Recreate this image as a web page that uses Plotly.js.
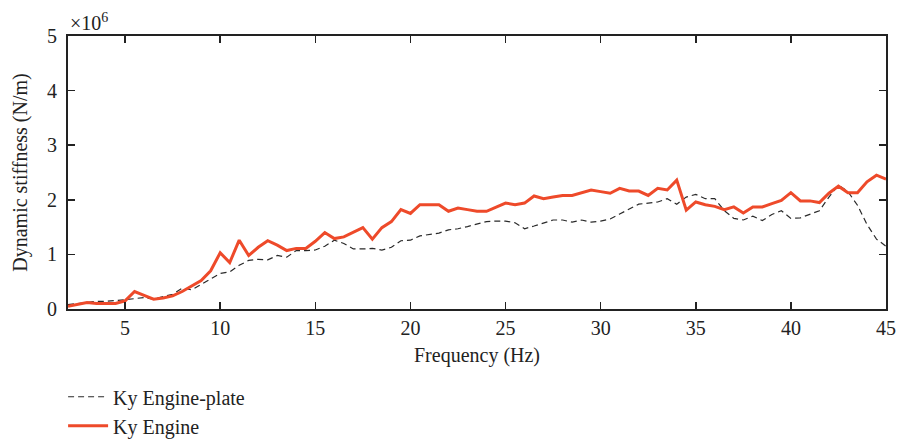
<!DOCTYPE html>
<html>
<head>
<meta charset="utf-8">
<script src="https://cdn.plot.ly/plotly-3.0.1.min.js"></script>
<style>html,body{margin:0;padding:0;background:#fff;}#chart{width:899px;height:441px;}</style>
</head>
<body>
<div id="chart"></div>
<script>
// Frequency (Hz)
const frequency = [2,2.5,3,3.5,4,4.5,5,5.5,6,6.5,7,7.5,8,8.5,9,9.5,10,10.5,11,11.5,12,12.5,13,13.5,14,14.5,15,15.5,16,16.5,17,17.5,18,18.5,19,19.5,20,20.5,21,21.5,22,22.5,23,23.5,24,24.5,25,25.5,26,26.5,27,27.5,28,28.5,29,29.5,30,30.5,31,31.5,32,32.5,33,33.5,34,34.5,35,35.5,36,36.5,37,37.5,38,38.5,39,39.5,40,40.5,41,41.5,42,42.5,43,43.5,44,44.5,45];
// Dynamic stiffness, units of 1e6 N/m
const kyEnginePlate = [0.08,0.10,0.12,0.14,0.14,0.15,0.17,0.19,0.21,0.18,0.23,0.27,0.38,0.35,0.45,0.55,0.65,0.68,0.80,0.89,0.91,0.90,0.98,0.95,1.07,1.07,1.08,1.15,1.26,1.20,1.10,1.10,1.11,1.08,1.13,1.25,1.26,1.34,1.36,1.39,1.45,1.47,1.51,1.55,1.60,1.61,1.61,1.58,1.47,1.52,1.58,1.63,1.63,1.59,1.63,1.59,1.61,1.65,1.74,1.83,1.92,1.94,1.96,2.02,1.92,2.05,2.10,2.02,2.02,1.80,1.66,1.63,1.70,1.62,1.73,1.80,1.66,1.67,1.73,1.80,2.05,2.27,2.15,1.90,1.55,1.28,1.15];
const kyEngine = [0.05,0.08,0.12,0.10,0.10,0.10,0.15,0.32,0.25,0.18,0.20,0.24,0.32,0.42,0.52,0.70,1.03,0.85,1.26,0.98,1.13,1.25,1.17,1.07,1.11,1.11,1.24,1.40,1.29,1.32,1.41,1.49,1.28,1.49,1.60,1.82,1.75,1.91,1.91,1.91,1.79,1.85,1.82,1.79,1.79,1.86,1.94,1.91,1.94,2.07,2.02,2.05,2.08,2.08,2.13,2.18,2.15,2.12,2.21,2.16,2.16,2.08,2.21,2.18,2.36,1.81,1.96,1.91,1.88,1.82,1.87,1.76,1.87,1.87,1.93,1.99,2.13,1.98,1.98,1.95,2.12,2.25,2.13,2.13,2.33,2.45,2.38];
const seriesNames = ['Ky Engine-plate', 'Ky Engine'];
const xTicks = [5,10,15,20,25,30,35,40,45];
const yTicks = [0,1,2,3,4,5];

const font = 'Liberation Serif, DejaVu Serif, serif';
const fs = 20;
const traces = [
  {x: frequency, y: kyEnginePlate, name: seriesNames[0], mode: 'lines', type: 'scatter',
   line: {color: '#2a2a2a', width: 1.2, dash: '6px,4px'}},
  {x: frequency, y: kyEngine, name: seriesNames[1], mode: 'lines', type: 'scatter',
   line: {color: '#EE4A2A', width: 3}}
];
const axisCommon = {
  showgrid: false, zeroline: false, showline: true, linecolor: '#222', linewidth: 2,
  mirror: 'ticks', ticks: 'inside', ticklen: 7, tickwidth: 1.5, tickcolor: '#222',
  tickfont: {family: font, size: fs, color: '#222'}
};
const layout = {
  width: 899, height: 441,
  margin: {l: 68, r: 13, t: 36, b: 132, autoexpand: false},
  paper_bgcolor: '#fff', plot_bgcolor: '#fff',
  font: {family: font, color: '#222'},
  showlegend: true,
  legend: {x: -0.006, y: -0.25, xanchor: 'left', yanchor: 'top', orientation: 'v',
           font: {family: font, size: fs, color: '#222'}, tracegroupgap: 0, itemwidth: 40,
           bgcolor: 'rgba(0,0,0,0)'},
  xaxis: Object.assign({}, axisCommon, {range: [2, 45], tickvals: xTicks, ticktext: xTicks.map(String),
    title: {text: 'Frequency (Hz)', font: {family: font, size: fs, color: '#222'}, standoff: 10}}),
  yaxis: Object.assign({}, axisCommon, {range: [0, 5], tickvals: yTicks, ticktext: yTicks.map(String),
    ticklabelstandoff: 5,
    title: {text: 'Dynamic stiffness (N/m)', font: {family: font, size: fs, color: '#222'}, standoff: 14}}),
  annotations: [{text: '×10<sup>6</sup>', xref: 'paper', yref: 'paper', x: 0, y: 1, xanchor: 'left', yanchor: 'bottom',
    showarrow: false, font: {family: font, size: fs, color: '#222'}, yshift: 0}]
};
Plotly.newPlot('chart', traces, layout, {displayModeBar: false, staticPlot: true});
</script>
</body>
</html>
